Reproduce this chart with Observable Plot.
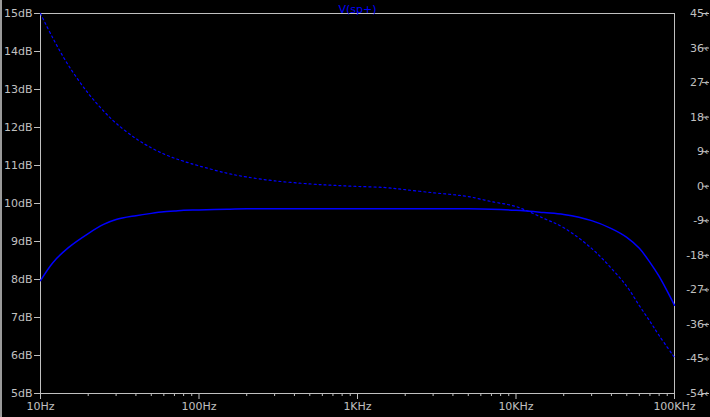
<!DOCTYPE html>
<html><head><meta charset="utf-8">
<script src="https://cdn.jsdelivr.net/npm/d3@7"></script>
<script src="https://cdn.jsdelivr.net/npm/@observablehq/plot@0.6"></script>
<style>
html,body{margin:0;padding:0;background:#000;}
#chart svg{display:block; box-shadow: inset 2px 0 0 #9a9a9a;}
</style></head><body><div id="chart"></div>
<script>
const freq = [10,12,15,20,25,30,40,50,60,70,80,100,150,200,300,500,700,1000,1500,2000,3000,4000,5000,7000,10000,15000,20000,30000,40000,50000,60000,70000,80000,100000];
const magDb = [7.97,8.45,8.84,9.21,9.45,9.58,9.68,9.74,9.78,9.80,9.82,9.83,9.85,9.86,9.86,9.86,9.86,9.86,9.86,9.86,9.86,9.86,9.86,9.85,9.82,9.76,9.71,9.55,9.34,9.11,8.82,8.45,8.08,7.32];
const phaseDeg = [45,38.5,31.5,24.2,19.6,16.4,12.4,10.0,8.4,7.3,6.5,5.3,3.4,2.4,1.4,0.6,0.25,-0.05,-0.35,-0.9,-1.7,-2.2,-2.7,-4.0,-5.3,-8.4,-10.8,-16.2,-21.4,-26.1,-31.1,-35.2,-38.9,-44.6];
const dbTicks = [5,6,7,8,9,10,11,12,13,14,15];
const phaseTicks = [45,36,27,18,9,0,-9,-18,-27,-36,-45,-54];
const decadeTicks = [10,100,1000,10000,100000];
const decadeLabels = ["10Hz","100Hz","1KHz","10KHz","100KHz"];
const minorTicks = [20,30,40,50,60,70,80,90,200,300,400,500,600,700,800,900,2000,3000,4000,5000,6000,7000,8000,9000,20000,30000,40000,50000,60000,70000,80000,90000];
const title = "V(sp+)";

const dbMin = 5, dbMax = 15, phMin = -54, phMax = 45;
const phToDb = p => dbMin + (p - phMin) * (dbMax - dbMin) / (phMax - phMin);
const dbToPh = d => phMin + (d - dbMin) * (phMax - phMin) / (dbMax - dbMin);

const rows = freq.map((f, i) => ({f, mag: magDb[i], ph: phaseDeg[i]}));
const grey = "#c0c0c0";
const blue = "#0000ff";

const chart = Plot.plot({
  width: 710, height: 417,
  marginLeft: 40, marginRight: 36, marginTop: 13, marginBottom: 24,
  style: {background: "#000", color: grey, fontFamily: "'DejaVu Sans', sans-serif", fontSize: "11px"},
  x: {type: "log", domain: [10, 100000]},
  y: {domain: [5, 15]},
  marks: [
    Plot.frame({stroke: grey}),
    Plot.axisX(minorTicks, {tickSize: 3, tickFormat: () => "", label: null}),
    Plot.axisX(decadeTicks, {tickSize: 6, tickPadding: 3, tickFormat: d => decadeLabels[decadeTicks.indexOf(d)], label: null}),
    Plot.axisY(dbTicks, {anchor: "left", tickSize: 6, tickPadding: 2, tickFormat: d => d + "dB", label: null}),
    Plot.axisY(phaseTicks.map(phToDb), {anchor: "right", tickSize: 7, tickPadding: 0, textAnchor: "end", dx: 27, tickFormat: d => Math.round(dbToPh(d)) + "\u2039", label: null}),
    Plot.line(rows, {x: "f", y: "mag", stroke: blue, strokeWidth: 1.5, curve: "catmull-rom"}),
    Plot.line(rows, {x: "f", y: d => phToDb(d.ph), stroke: blue, strokeWidth: 1.2, strokeDasharray: "2,3", curve: "catmull-rom"}),
    Plot.text([title], {frameAnchor: "top", lineAnchor: "bottom", dy: -1, fill: blue, fontSize: 11})
  ]
});
document.getElementById("chart").appendChild(chart);
</script></body></html>
